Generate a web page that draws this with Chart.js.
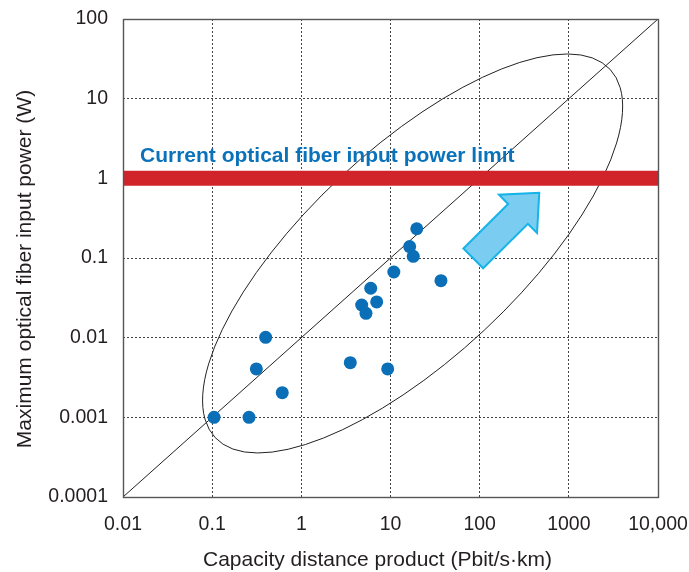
<!DOCTYPE html>
<html><head><meta charset="utf-8">
<script src="https://cdn.jsdelivr.net/npm/chart.js@4/dist/chart.umd.min.js"></script>
<style>html,body{margin:0;padding:0;background:#fff;} #wrap{width:689px;height:572px;}</style>
</head><body><div id="wrap"><canvas id="c" width="689" height="572"></canvas></div>
<script>
// ---- data ----
const capacityX = [0.105, 0.259, 0.313, 0.398, 0.611, 3.54, 9.30, 4.75, 5.31, 6.0, 7.0, 10.9, 16.4, 18.0, 19.7, 36.8];
const powerY    = [0.001, 0.001, 0.00405, 0.0101, 0.00204, 0.00486, 0.00405, 0.0257, 0.0202, 0.0417, 0.0281, 0.0667, 0.139, 0.105, 0.233, 0.0519];
const xTicks = [0.01, 0.1, 1, 10, 100, 1000, 10000];
const xTickLabels = ['0.01', '0.1', '1', '10', '100', '1000', '10,000'];
const yTicks = [0.0001, 0.001, 0.01, 0.1, 1, 10, 100];
const yTickLabels = ['0.0001', '0.001', '0.01', '0.1', '1', '10', '100'];
const diagonalX = [0.01, 10000];
const diagonalY = [0.0001, 100];
const limitX = [0.01, 10000];
const limitY = [1, 1];
const limitLabel = 'Current optical fiber input power limit';
const limitLabelX = 0.0155;
const xTitle = 'Capacity distance product (Pbit/s\u00b7km)';
const yTitle = 'Maximum optical fiber input power (W)';
const ellipseCenter = [17.7, 0.114];
const arrowFrom = [84.8, 0.099];
const arrowTo = [466, 0.66];

const FONT = '"Liberation Sans", Arial, Helvetica, sans-serif';
const TEXT = '#231f20';

const overlay = {
  id: 'overlay',
  beforeDatasetsDraw(chart) {
    const {ctx, chartArea, scales: {x, y}} = chart;
    const k = chartArea.width / 535;
    ctx.save();
    ctx.beginPath();
    ctx.ellipse(x.getPixelForValue(ellipseCenter[0]), y.getPixelForValue(ellipseCenter[1]),
                270 * k, 105 * k, -43 * Math.PI / 180, 0, 2 * Math.PI);
    ctx.strokeStyle = '#222';
    ctx.lineWidth = 1;
    ctx.stroke();
    ctx.restore();
  },
  afterDatasetsDraw(chart) {
    const {ctx, chartArea, scales: {x, y}} = chart;
    // arrow
    const tx = x.getPixelForValue(arrowFrom[0]), ty = y.getPixelForValue(arrowFrom[1]);
    const hx = x.getPixelForValue(arrowTo[0]), hy = y.getPixelForValue(arrowTo[1]);
    const L = Math.hypot(hx - tx, hy - ty);
    const ux = (hx - tx) / L, uy = (hy - ty) / L, vx = -uy, vy = ux;
    const sw = 14, hw = 27, hl = 30;
    const P = (u, v) => [tx + ux * u + vx * v, ty + uy * u + vy * v];
    const pts = [P(0, sw), P(L - hl, sw), P(L - hl, hw), P(L, 0), P(L - hl, -hw), P(L - hl, -sw), P(0, -sw)];
    ctx.save();
    ctx.beginPath();
    pts.forEach((p, i) => i ? ctx.lineTo(p[0], p[1]) : ctx.moveTo(p[0], p[1]));
    ctx.closePath();
    ctx.fillStyle = '#7acdf1';
    ctx.fill();
    ctx.strokeStyle = '#14b3e8';
    ctx.lineWidth = 2;
    ctx.lineJoin = 'miter';
    ctx.stroke();
    // label
    ctx.font = 'bold 21px ' + FONT;
    ctx.fillStyle = '#0a72bb';
    ctx.textAlign = 'left';
    ctx.textBaseline = 'alphabetic';
    ctx.fillText(limitLabel, x.getPixelForValue(limitLabelX), y.getPixelForValue(1) - 16.5);
    // frame
    ctx.strokeStyle = '#555';
    ctx.lineWidth = 1.4;
    ctx.strokeRect(chartArea.left + 0.5, chartArea.top + 0.5, chartArea.width, chartArea.height);
    ctx.restore();
  },
  afterDraw(chart) {
    const {ctx, chartArea} = chart;
    ctx.save();
    ctx.font = '21px ' + FONT;
    ctx.fillStyle = TEXT;
    ctx.textAlign = 'center';
    ctx.textBaseline = 'alphabetic';
    ctx.fillText(xTitle, (chartArea.left + chartArea.right) / 2 - 13, 566);
    ctx.translate(31, (chartArea.top + chartArea.bottom) / 2 + 11);
    ctx.rotate(-Math.PI / 2);
    ctx.fillText(yTitle, 0, 0);
    ctx.restore();
  }
};

new Chart(document.getElementById('c'), {
  type: 'scatter',
  data: {
    datasets: [
      {
        type: 'scatter',
        data: capacityX.map((v, i) => ({x: v, y: powerY[i]})),
        backgroundColor: '#0a6fb7',
        borderWidth: 0,
        pointRadius: 6.5,
        pointHoverRadius: 6.5,
        order: 0
      },
      {
        type: 'line',
        data: limitX.map((v, i) => ({x: v, y: limitY[i]})),
        borderColor: '#d1232a',
        borderWidth: 15,
        borderCapStyle: 'butt',
        pointRadius: 0,
        fill: false,
        order: 1
      },
      {
        type: 'line',
        data: diagonalX.map((v, i) => ({x: v, y: diagonalY[i]})),
        borderColor: '#222',
        borderWidth: 1,
        pointRadius: 0,
        fill: false,
        order: 2
      }
    ]
  },
  options: {
    responsive: false,
    animation: false,
    devicePixelRatio: 1,
    events: [],
    layout: {padding: {top: 19, right: 31, left: 0, bottom: 0}},
    plugins: {legend: {display: false}, tooltip: {enabled: false}},
    scales: {
      x: {
        type: 'logarithmic',
        min: 0.01, max: 10000,
        afterBuildTicks: s => { s.ticks = xTicks.map(v => ({value: v})); },
        afterFit: s => { s.height = 75; s.paddingLeft = 0; s.paddingRight = 0; s.paddingTop = 0; s.paddingBottom = 0; },
        ticks: {
          callback: v => xTickLabels[xTicks.indexOf(v)],
          font: {family: FONT, size: 19.5},
          color: TEXT,
          padding: 16,
          maxRotation: 0,
          autoSkip: false
        },
        grid: {color: '#444', lineWidth: 1, drawTicks: false},
        border: {display: false, dash: [2, 2]}
      },
      y: {
        type: 'logarithmic',
        min: 0.0001, max: 100,
        afterBuildTicks: s => { s.ticks = yTicks.map(v => ({value: v})); },
        afterFit: s => { s.width = 123; s.paddingLeft = 0; s.paddingRight = 0; s.paddingTop = 0; s.paddingBottom = 0; },
        ticks: {
          callback: v => yTickLabels[yTicks.indexOf(v)],
          font: {family: FONT, size: 19.5},
          color: TEXT,
          padding: 15,
          autoSkip: false
        },
        grid: {color: '#444', lineWidth: 1, drawTicks: false},
        border: {display: false, dash: [2, 2]}
      }
    }
  },
  plugins: [overlay]
});
</script>
</body></html>
